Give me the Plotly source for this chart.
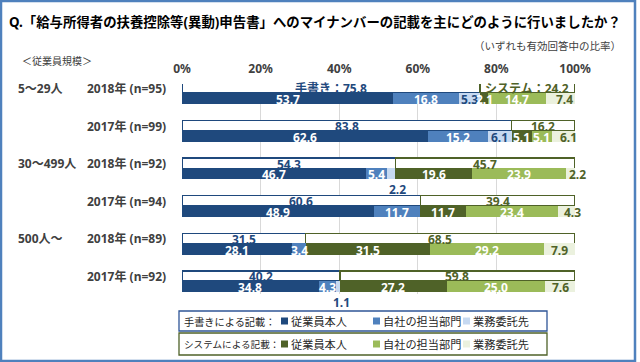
import plotly.graph_objects as go

# ---------------- data ----------------
groups = ["5～29人", "", "30～499人", "", "500人～", ""]
years = ["2018年 (n=95)", "2017年 (n=99)", "2018年 (n=92)", "2017年 (n=94)",
         "2018年 (n=89)", "2017年 (n=92)"]

hand_total = [75.8, 83.8, 54.3, 60.6, 31.5, 40.2]
sys_total = [24.2, 16.2, 45.7, 39.4, 68.5, 59.8]

hand_self = [53.7, 62.6, 46.7, 48.9, 28.1, 34.8]
hand_dept = [16.8, 15.2, 5.4, 11.7, 3.4, 4.3]
hand_outs = [5.3, 6.1, 2.2, 0.0, 0.0, 1.1]
sys_self = [2.1, 5.1, 19.6, 11.7, 31.5, 27.2]
sys_dept = [14.7, 5.1, 23.9, 23.4, 29.2, 25.0]
sys_outs = [7.4, 6.1, 2.2, 4.3, 7.9, 7.6]

x_ticks = [0, 20, 40, 60, 80, 100]
x_tick_labels = ["0%", "20%", "40%", "60%", "80%", "100%"]

title = "Q.「給与所得者の扶養控除等(異動)申告書」へのマイナンバーの記載を主にどのように行いましたか？"
subtitle = "（いずれも有効回答中の比率）"
size_caption = "＜従業員規模＞"
hand_prefix = "手書き："
sys_prefix = "システム："
legend_hand_title = "手書きによる記載："
legend_sys_title = "システムによる記載："
legend_items = ["従業員本人", "自社の担当部門", "業務委託先"]

# ---------------- styles ----------------
NAVY = "#1F497D"
BLUE = "#4F81BD"
LBLUE = "#C6D9F1"
OLIVE = "#4F6228"
GREEN = "#9BBB59"
LGREEN = "#EBF1DE"
TXT = "#404040"
LAT = "Noto Sans, Noto Sans CJK JP"
CJK = "Noto Sans CJK JP"

W, H = 640, 362
L, R, T, B = 182, 575, 84, 294
PITCH = 37.6


def px_x(px):
    return (px - L) / (R - L)


def px_y(py):
    return (B - py) / (B - T)


top0 = (93 - T) / PITCH

n = len(years)
rows = list(range(n))
TOP_W, BOT_W = 0.27, 0.30
y_top = [r - TOP_W / 2 for r in rows]
y_bot = [r + BOT_W / 2 for r in rows]

fig = go.Figure()

for vals, lc in [(hand_total, NAVY), (sys_total, OLIVE)]:
    fig.add_trace(go.Bar(x=vals, y=y_top, orientation="h", width=TOP_W,
                         marker=dict(color="white", line=dict(color=lc, width=1.3)),
                         hoverinfo="skip", showlegend=False))

segs = [hand_self, hand_dept, hand_outs, sys_self, sys_dept, sys_outs]
seg_colors = [NAVY, BLUE, LBLUE, OLIVE, GREEN, LGREEN]
seg_text = ["white", "white", NAVY, "white", "white", OLIVE]
for vals, c in zip(segs, seg_colors):
    fig.add_trace(go.Bar(x=vals, y=y_bot, orientation="h", width=BOT_W,
                         marker=dict(color=c, line=dict(width=0)),
                         hoverinfo="skip", showlegend=False))

ann = []
lab_font = dict(family=LAT, size=12, weight="bold")

# top bar labels
for i in rows:
    ht = (hand_prefix if i == 0 else "") + f"{hand_total[i]:.1f}"
    st = (sys_prefix if i == 0 else "") + f"{sys_total[i]:.1f}"
    ann.append(dict(x=hand_total[i] / 2, y=y_top[i], text=ht, showarrow=False,
                    font=dict(lab_font, color=NAVY), xref="x", yref="y", yshift=-1))
    ann.append(dict(x=hand_total[i] + sys_total[i] / 2, y=y_top[i], text=st, showarrow=False,
                    font=dict(lab_font, color=OLIVE), xref="x", yref="y", yshift=-1))

# segment labels
below = {(2, 2), (5, 2)}
last_shift = {0: 4, 1: 5, 2: 7, 3: 6}
for i in rows:
    cum = 0.0
    for k, vals in enumerate(segs):
        v = vals[i]
        start = cum
        cum += v
        if v <= 0:
            continue
        txt = f"{v:.1f}"
        if (i, k) in below:
            ann.append(dict(x=cum, y=i + BOT_W, text=txt, showarrow=False, yanchor="top",
                            xshift=2, font=dict(lab_font, color=NAVY), xref="x", yref="y"))
            continue
        xs = last_shift.get(i, 0) if k == 5 else 0
        ann.append(dict(x=start + v / 2, y=y_bot[i], text=txt, showarrow=False, xshift=xs,
                        yshift=-1, font=dict(lab_font, color=seg_text[k]), xref="x", yref="y"))

# row labels
for i in rows:
    ann.append(dict(x=px_x(168), y=i - 0.12, xref="paper", yref="y", text=years[i],
                    xanchor="right", showarrow=False,
                    font=dict(family=LAT, size=12, weight="bold", color=TXT)))
    if groups[i]:
        ann.append(dict(x=px_x(16), y=i - 0.12, xref="paper", yref="y", text=groups[i],
                        xanchor="left", showarrow=False,
                        font=dict(family=LAT, size=12, weight="bold", color=TXT)))

# titles
ann.append(dict(x=px_x(7), y=px_y(22), xref="paper", yref="paper", text=title,
                xanchor="left", yanchor="middle", showarrow=False,
                font=dict(family=LAT, size=13.4, weight="bold", color="#000000")))
ann.append(dict(x=px_x(623), y=px_y(45), xref="paper", yref="paper", text=subtitle,
                xanchor="right", yanchor="middle", showarrow=False,
                font=dict(family=CJK, size=10.5, color=TXT)))
ann.append(dict(x=px_x(20), y=px_y(61), xref="paper", yref="paper", text=size_caption,
                xanchor="left", yanchor="middle", showarrow=False,
                font=dict(family=CJK, size=10, color=TXT)))

shapes = []
# legend boxes
leg = [(legend_hand_title, [NAVY, BLUE, LBLUE], "#2F5597", 311, 331, 10.2),
       (legend_sys_title, [OLIVE, GREEN, LGREEN], OLIVE, 333, 355, 9.6)]
sq_x = [281, 373, 463]
for ttl, cols, bc, y0, y1, fs in leg:
    shapes.append(dict(type="rect", xref="paper", yref="paper", x0=px_x(179), x1=px_x(547),
                       y0=px_y(y1), y1=px_y(y0), line=dict(color=bc, width=1.3),
                       fillcolor="white", layer="above"))
    yc = (y0 + y1) / 2
    ann.append(dict(x=px_x(182), y=px_y(yc), xref="paper", yref="paper", text=ttl,
                    xanchor="left", yanchor="middle", showarrow=False,
                    font=dict(family=CJK, size=fs, color="#262626")))
    for sx, c, name in zip(sq_x, cols, legend_items):
        shapes.append(dict(type="rect", xref="paper", yref="paper", x0=px_x(sx), x1=px_x(sx + 7),
                           y0=px_y(yc + 3.5), y1=px_y(yc - 3.5), line=dict(width=0),
                           fillcolor=c, layer="above"))
        ann.append(dict(x=px_x(sx + 8), y=px_y(yc), xref="paper", yref="paper", text=name,
                        xanchor="left", yanchor="middle", showarrow=False,
                        font=dict(family=CJK, size=11.2, color="#262626")))

# outer frame
shapes.append(dict(type="rect", xref="paper", yref="paper", x0=px_x(1), x1=px_x(635),
                   y0=px_y(361), y1=px_y(1), line=dict(color=BLUE, width=2.5), layer="above"))

fig.update_layout(
    width=W, height=H, barmode="stack",
    margin=dict(l=L, r=W - R, t=T, b=H - B, pad=0),
    paper_bgcolor="white", plot_bgcolor="white",
    xaxis=dict(range=[0, 100], side="top", tickvals=x_ticks, ticktext=x_tick_labels,
               showgrid=True, gridcolor="#D9D9D9", gridwidth=1, zeroline=False,
               showline=False, ticks="", ticklabelstandoff=8,
               tickfont=dict(family=LAT, size=12, weight="bold", color=TXT), fixedrange=True),
    yaxis=dict(range=[(B - T) / PITCH - top0, -top0], showgrid=False, zeroline=False,
               showticklabels=False, fixedrange=True),
    annotations=ann, shapes=shapes, showlegend=False,
)

fig.write_html("out.html", config={"displayModeBar": False},
               post_script="document.body.style.margin='0';document.body.style.overflow='hidden';")
